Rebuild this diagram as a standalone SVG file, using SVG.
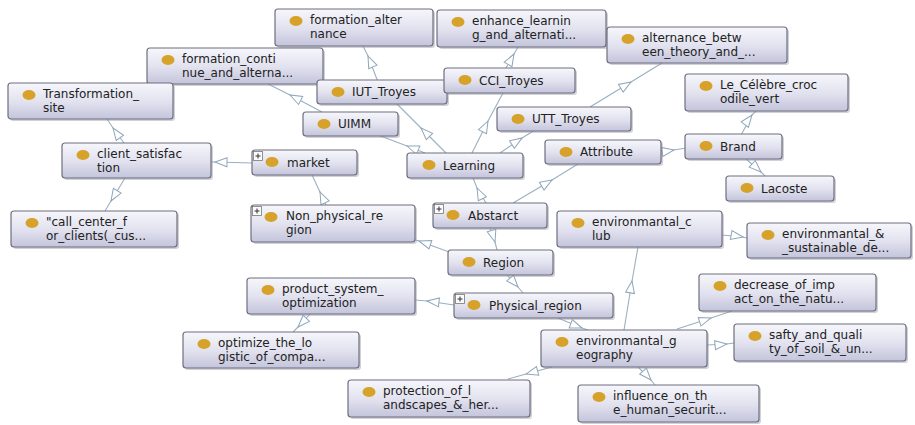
<svg xmlns="http://www.w3.org/2000/svg" width="915" height="425" viewBox="0 0 915 425">
<defs>
<linearGradient id="g" x1="0" y1="0" x2="0" y2="1">
<stop offset="0" stop-color="#f6f6fb"/>
<stop offset="0.5" stop-color="#e3e3f0"/>
<stop offset="1" stop-color="#c4c4dc"/>
</linearGradient>
<marker id="a" markerUnits="userSpaceOnUse" markerWidth="16" markerHeight="12" viewBox="-14 -6 16 12" refX="0" refY="0" orient="auto">
<path d="M0,0 L-12,-4.5 L-12,4.5 Z" fill="#fff" stroke="#8fa6b8" stroke-width="1"/>
</marker>
</defs>
<style>
.e{fill:none;stroke:#9bb0c0;stroke-width:1.1;marker-mid:url(#a)}
.b{fill:url(#g);stroke:#6f6f80;stroke-width:1.2}
.s{fill:#9a9aa8;opacity:.45}
.d{fill:#d6a22a}
.t{font-family:"DejaVu Sans","Liberation Sans",sans-serif;font-size:12px;fill:#222}
.p{fill:#fbfbfd;stroke:#777;stroke-width:.8}
.pl{stroke:#333;stroke-width:1}
</style>
<rect width="915" height="425" fill="#fff"/>
<g id="connectors">
<path class="e" d="M486,203 L477,188 L473,178"/>
<path class="e" d="M513,203 L552,180 L578,164"/>
<path class="e" d="M661,152 L674,150 L686,148"/>
<path class="e" d="M746,159 L761,172 L765,176"/>
<path class="e" d="M741,135 L752,115 L756,111"/>
<path class="e" d="M490,228 L495,242 L497,250"/>
<path class="e" d="M452,253 L419,241 L412,239"/>
<path class="e" d="M326,205 L320,192 L312,175"/>
<path class="e" d="M252,163 L215,162 L211,162"/>
<path class="e" d="M124,143 L113,128 L107,119"/>
<path class="e" d="M125,178 L111,201 L105,211"/>
<path class="e" d="M446,153 L421,128 L395,102"/>
<path class="e" d="M378,82 L368,56 L363,46"/>
<path class="e" d="M425,153 L407,146 L370,132"/>
<path class="e" d="M322,112 L290,95 L268,84"/>
<path class="e" d="M472,153 L488,121 L503,93"/>
<path class="e" d="M506,68 L514,54 L518,47"/>
<path class="e" d="M500,153 L522,138 L535,130"/>
<path class="e" d="M590,107 L631,82 L662,63"/>
<path class="e" d="M507,275 L518,287 L523,293"/>
<path class="e" d="M454,305 L427,301 L415,300"/>
<path class="e" d="M310,314 L298,327 L293,332"/>
<path class="e" d="M558,318 L582,328 L588,330"/>
<path class="e" d="M624,330 L632,281 L638,247"/>
<path class="e" d="M722,235 L743,237 L747,238"/>
<path class="e" d="M677,329 L711,318 L732,311"/>
<path class="e" d="M707,345 L727,344 L734,343"/>
<path class="e" d="M552,367 L526,374 L508,379"/>
<path class="e" d="M638,367 L651,380 L655,385"/>
</g>
<g id="formation_alternance"><rect class="s" x="277" y="11" width="158" height="37" rx="3"/><rect class="b" x="275" y="9" width="158" height="37" rx="3"/><ellipse class="d" cx="296" cy="21" rx="6.5" ry="5"/><text class="t" x="310" y="24">formation_alter</text><text class="t" x="310" y="38">nance</text></g>
<g id="enhance_learning"><rect class="s" x="439" y="12" width="169" height="37" rx="3"/><rect class="b" x="437" y="10" width="169" height="37" rx="3"/><ellipse class="d" cx="458" cy="22" rx="6.5" ry="5"/><text class="t" x="472" y="25">enhance_learnin</text><text class="t" x="472" y="39">g_and_alternati...</text></g>
<g id="alternance_between"><rect class="s" x="609" y="29" width="180" height="36" rx="3"/><rect class="b" x="607" y="27" width="180" height="36" rx="3"/><ellipse class="d" cx="628" cy="39" rx="6.5" ry="5"/><text class="t" x="642" y="42">alternance_betw</text><text class="t" x="642" y="56">een_theory_and_...</text></g>
<g id="formation_continue"><rect class="s" x="149" y="50" width="176" height="36" rx="3"/><rect class="b" x="147" y="48" width="176" height="36" rx="3"/><ellipse class="d" cx="168" cy="60" rx="6.5" ry="5"/><text class="t" x="182" y="63">formation_conti</text><text class="t" x="182" y="77">nue_and_alterna...</text></g>
<g id="Transformation_site"><rect class="s" x="10" y="85" width="165" height="36" rx="3"/><rect class="b" x="8" y="83" width="165" height="36" rx="3"/><ellipse class="d" cx="29" cy="95" rx="6.5" ry="5"/><text class="t" x="43" y="98">Transformation_</text><text class="t" x="43" y="112">site</text></g>
<g id="IUT_Troyes"><rect class="s" x="319" y="82" width="130" height="24" rx="3"/><rect class="b" x="317" y="80" width="130" height="24" rx="3"/><ellipse class="d" cx="338" cy="92" rx="6.5" ry="5"/><text class="t" x="352" y="96">IUT_Troyes</text></g>
<g id="CCI_Troyes"><rect class="s" x="446" y="70" width="131" height="25" rx="3"/><rect class="b" x="444" y="68" width="131" height="25" rx="3"/><ellipse class="d" cx="465" cy="80" rx="6.5" ry="5"/><text class="t" x="479" y="85">CCI_Troyes</text></g>
<g id="UIMM"><rect class="s" x="305" y="114" width="95" height="24" rx="3"/><rect class="b" x="303" y="112" width="95" height="24" rx="3"/><ellipse class="d" cx="324" cy="124" rx="6.5" ry="5"/><text class="t" x="338" y="128">UIMM</text></g>
<g id="UTT_Troyes"><rect class="s" x="499" y="109" width="134" height="24" rx="3"/><rect class="b" x="497" y="107" width="134" height="24" rx="3"/><ellipse class="d" cx="518" cy="119" rx="6.5" ry="5"/><text class="t" x="532" y="123">UTT_Troyes</text></g>
<g id="Le_Celebre"><rect class="s" x="687" y="76" width="163" height="37" rx="3"/><rect class="b" x="685" y="74" width="163" height="37" rx="3"/><ellipse class="d" cx="706" cy="86" rx="6.5" ry="5"/><text class="t" x="720" y="89">Le_Célèbre_croc</text><text class="t" x="720" y="103">odile_vert</text></g>
<g id="Brand"><rect class="s" x="687" y="136" width="97" height="25" rx="3"/><rect class="b" x="685" y="134" width="97" height="25" rx="3"/><ellipse class="d" cx="706" cy="146" rx="6.5" ry="5"/><text class="t" x="720" y="151">Brand</text></g>
<g id="Attribute"><rect class="s" x="547" y="142" width="116" height="24" rx="3"/><rect class="b" x="545" y="140" width="116" height="24" rx="3"/><ellipse class="d" cx="566" cy="152" rx="6.5" ry="5"/><text class="t" x="580" y="156">Attribute</text></g>
<g id="client_satisfaction"><rect class="s" x="64" y="145" width="149" height="35" rx="3"/><rect class="b" x="62" y="143" width="149" height="35" rx="3"/><ellipse class="d" cx="83" cy="155" rx="6.5" ry="5"/><text class="t" x="97" y="158">client_satisfac</text><text class="t" x="97" y="172">tion</text></g>
<g id="market"><rect class="s" x="254" y="152" width="105" height="25" rx="3"/><rect class="b" x="252" y="150" width="105" height="25" rx="3"/><rect class="p" x="253.5" y="151.5" width="9" height="9"/><path class="pl" d="M255.5,156h5M258,153.5v5"/><ellipse class="d" cx="272" cy="162" rx="6.5" ry="5"/><text class="t" x="287" y="167">market</text></g>
<g id="Learning"><rect class="s" x="409" y="155" width="116" height="25" rx="3"/><rect class="b" x="407" y="153" width="116" height="25" rx="3"/><ellipse class="d" cx="429" cy="165" rx="6.5" ry="5"/><text class="t" x="443" y="170">Learning</text></g>
<g id="Lacoste"><rect class="s" x="728" y="178" width="108" height="25" rx="3"/><rect class="b" x="726" y="176" width="108" height="25" rx="3"/><ellipse class="d" cx="747" cy="188" rx="6.5" ry="5"/><text class="t" x="761" y="193">Lacoste</text></g>
<g id="Abstarct"><rect class="s" x="435" y="205" width="114" height="25" rx="3"/><rect class="b" x="433" y="203" width="114" height="25" rx="3"/><rect class="p" x="434.5" y="204.5" width="9" height="9"/><path class="pl" d="M436.5,209h5M439,206.5v5"/><ellipse class="d" cx="453" cy="215" rx="6.5" ry="5"/><text class="t" x="468" y="220">Abstarct</text></g>
<g id="Non_physical_region"><rect class="s" x="253" y="207" width="164" height="37" rx="3"/><rect class="b" x="251" y="205" width="164" height="37" rx="3"/><rect class="p" x="252.5" y="206.5" width="9" height="9"/><path class="pl" d="M254.5,211h5M257,208.5v5"/><ellipse class="d" cx="271" cy="217" rx="6.5" ry="5"/><text class="t" x="286" y="220">Non_physical_re</text><text class="t" x="286" y="234">gion</text></g>
<g id="call_center"><rect class="s" x="13" y="213" width="166" height="36" rx="3"/><rect class="b" x="11" y="211" width="166" height="36" rx="3"/><ellipse class="d" cx="32" cy="223" rx="6.5" ry="5"/><text class="t" x="46" y="226">"call_center_f</text><text class="t" x="46" y="240">or_clients(_cus...</text></g>
<g id="environmantal_club"><rect class="s" x="559" y="213" width="165" height="36" rx="3"/><rect class="b" x="557" y="211" width="165" height="36" rx="3"/><ellipse class="d" cx="578" cy="223" rx="6.5" ry="5"/><text class="t" x="592" y="226">environmantal_c</text><text class="t" x="592" y="240">lub</text></g>
<g id="environmantal_sustainable"><rect class="s" x="749" y="225" width="164" height="35" rx="3"/><rect class="b" x="747" y="223" width="164" height="35" rx="3"/><ellipse class="d" cx="768" cy="235" rx="6.5" ry="5"/><text class="t" x="782" y="238">environmantal_&amp;</text><text class="t" x="782" y="252">_sustainable_de...</text></g>
<g id="Region"><rect class="s" x="450" y="252" width="105" height="25" rx="3"/><rect class="b" x="448" y="250" width="105" height="25" rx="3"/><ellipse class="d" cx="469" cy="262" rx="6.5" ry="5"/><text class="t" x="483" y="267">Region</text></g>
<g id="decrease"><rect class="s" x="701" y="276" width="177" height="37" rx="3"/><rect class="b" x="699" y="274" width="177" height="37" rx="3"/><ellipse class="d" cx="720" cy="286" rx="6.5" ry="5"/><text class="t" x="734" y="289">decrease_of_imp</text><text class="t" x="734" y="303">act_on_the_natu...</text></g>
<g id="product_system"><rect class="s" x="249" y="280" width="168" height="36" rx="3"/><rect class="b" x="247" y="278" width="168" height="36" rx="3"/><ellipse class="d" cx="268" cy="290" rx="6.5" ry="5"/><text class="t" x="282" y="293">product_system_</text><text class="t" x="282" y="307">optimization</text></g>
<g id="Physical_region"><rect class="s" x="456" y="295" width="159" height="25" rx="3"/><rect class="b" x="454" y="293" width="159" height="25" rx="3"/><rect class="p" x="455.5" y="294.5" width="9" height="9"/><path class="pl" d="M457.5,299h5M460,296.5v5"/><ellipse class="d" cx="474" cy="305" rx="6.5" ry="5"/><text class="t" x="489" y="310">Physical_region</text></g>
<g id="safty"><rect class="s" x="736" y="326" width="172" height="37" rx="3"/><rect class="b" x="734" y="324" width="172" height="37" rx="3"/><ellipse class="d" cx="755" cy="336" rx="6.5" ry="5"/><text class="t" x="769" y="339">safty_and_quali</text><text class="t" x="769" y="353">ty_of_soil_&amp;_un...</text></g>
<g id="environmantal_geography"><rect class="s" x="543" y="332" width="166" height="37" rx="3"/><rect class="b" x="541" y="330" width="166" height="37" rx="3"/><ellipse class="d" cx="562" cy="342" rx="6.5" ry="5"/><text class="t" x="576" y="345">environmantal_g</text><text class="t" x="576" y="359">eography</text></g>
<g id="optimize"><rect class="s" x="185" y="334" width="176" height="36" rx="3"/><rect class="b" x="183" y="332" width="176" height="36" rx="3"/><ellipse class="d" cx="204" cy="344" rx="6.5" ry="5"/><text class="t" x="218" y="347">optimize_the_lo</text><text class="t" x="218" y="361">gistic_of_compa...</text></g>
<g id="protection"><rect class="s" x="350" y="382" width="182" height="37" rx="3"/><rect class="b" x="348" y="380" width="182" height="37" rx="3"/><ellipse class="d" cx="369" cy="392" rx="6.5" ry="5"/><text class="t" x="383" y="395">protection_of_l</text><text class="t" x="383" y="409">andscapes_&amp;_her...</text></g>
<g id="influence"><rect class="s" x="580" y="387" width="181" height="37" rx="3"/><rect class="b" x="578" y="385" width="181" height="37" rx="3"/><ellipse class="d" cx="599" cy="397" rx="6.5" ry="5"/><text class="t" x="613" y="400">influence_on_th</text><text class="t" x="613" y="414">e_human_securit...</text></g>
</svg>
